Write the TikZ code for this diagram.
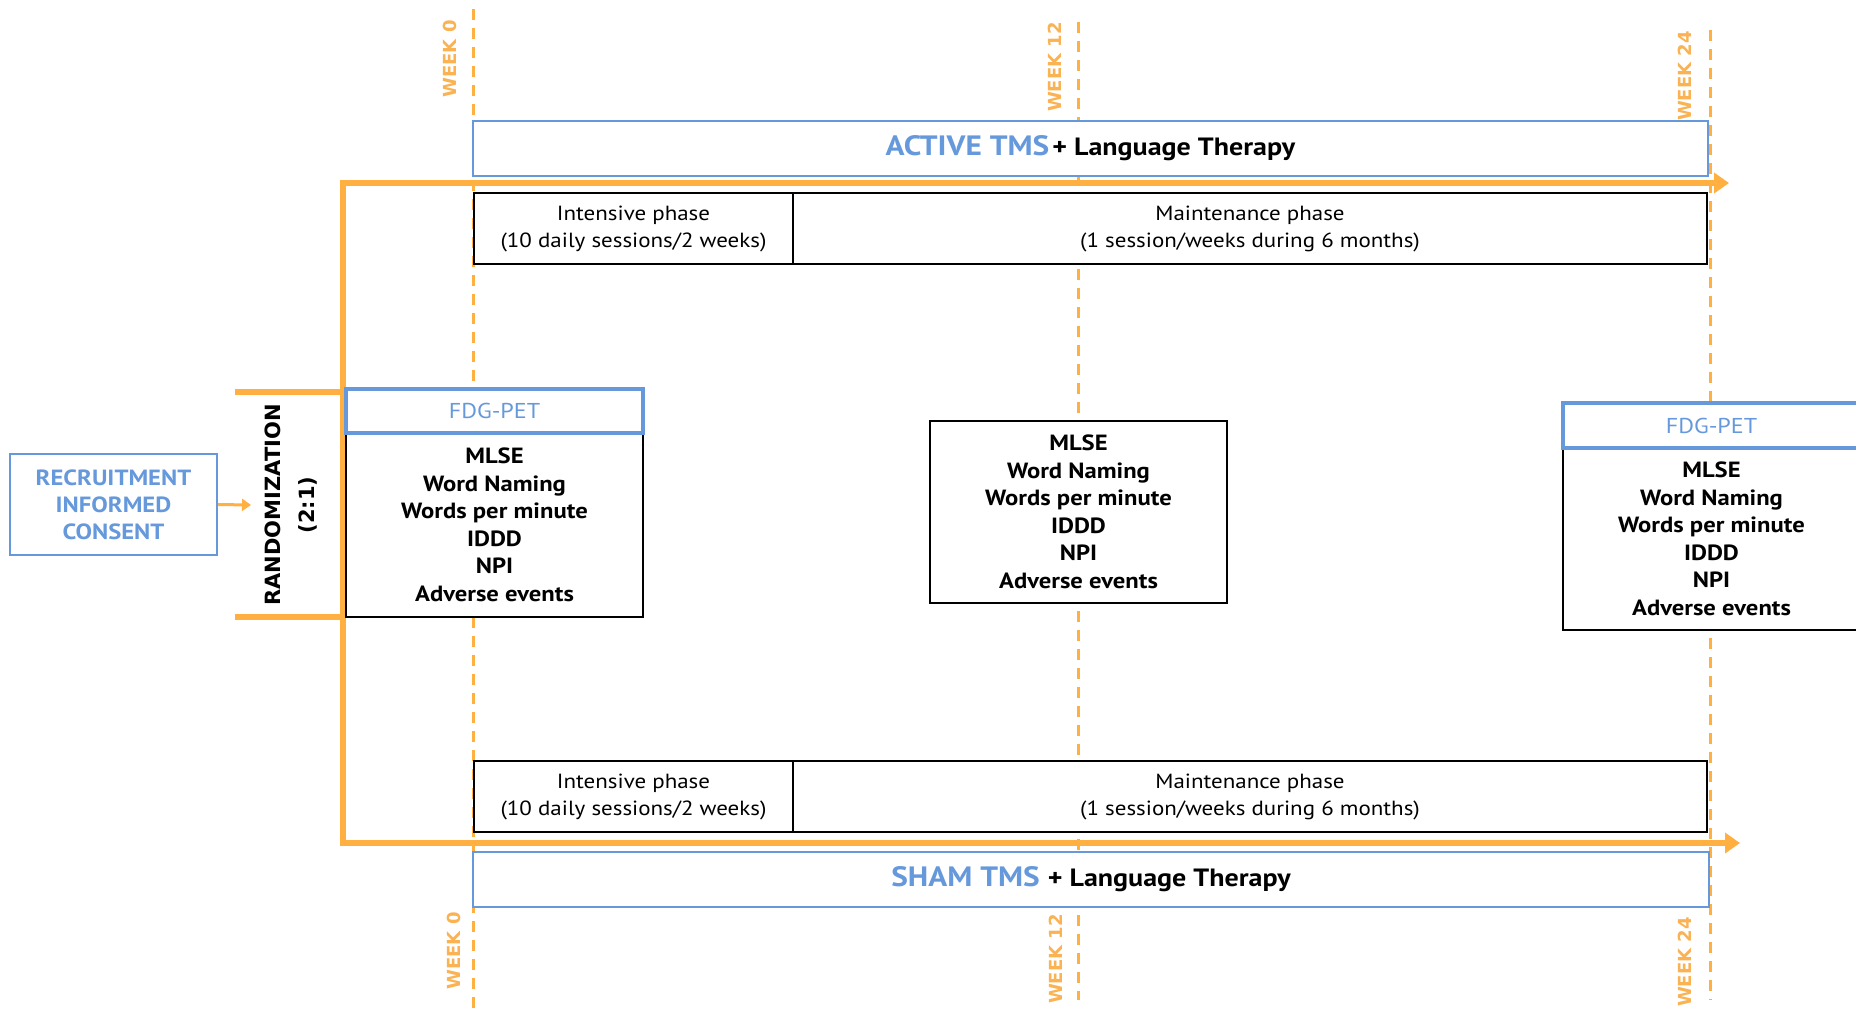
\documentclass[tikz,border=0pt]{standalone}
\usepackage{fontspec}
\setmainfont{PT Sans}[FakeStretch=1.12]
\newfontfamily\widefont{DejaVu Sans}
\usetikzlibrary{arrows.meta}
\definecolor{tmsblue}{RGB}{102,153,219}
\definecolor{tmsorange}{RGB}{255,176,64}
\definecolor{weekorange}{RGB}{250,178,82}
\begin{document}
\begin{tikzpicture}[x=1pt,y=-1pt,
  oline/.style={draw=tmsorange, line width=6.5pt},
  weekline/.style={draw=tmsorange, line width=3pt, dash pattern=on 11pt off 8pt},
  weeklbl/.style={text=weekorange, font=\widefont\bfseries\fontsize{18}{18}\selectfont, rotate=90, inner sep=0pt},
  bluebox/.style={draw=tmsblue, line width=2pt, fill=white, inner sep=0pt},
  blackbox/.style={draw=black, line width=2.5pt, fill=white, inner sep=0pt, align=center},
  fdgbox/.style={draw=tmsblue, line width=3.5pt, fill=white, inner sep=0pt, text=tmsblue, font=\fontsize{21.5}{21.5}\selectfont},
  listbox/.style={blackbox, font=\bfseries\fontsize{22}{27.5}\selectfont},
  phasebox/.style={blackbox, font=\fontsize{20.5}{27}\selectfont}]
\clip (0,0) rectangle (1856,1013);
\fill[white] (0,0) rectangle (1856,1013);

% week lines
\coordinate (w0a) at (473,9);   \coordinate (w0b) at (473,1013);
\coordinate (w12a) at (1078,22); \coordinate (w12b) at (1078,1000);
\coordinate (w24a) at (1710,30); \coordinate (w24b) at (1710,1000);
\draw[weekline] (w0a) -- (w0b);
\draw[weekline] (w12a) -- (w12b);
\draw[weekline] (w24a) -- (w24b);

% week labels
\node[weeklbl] (lt0) at (450,59) {WEEK 0};
\node[weeklbl] (lt12) at (1055,67) {WEEK 12};
\node[weeklbl] (lt24) at (1685,76) {WEEK 24};
\node[weeklbl] (lb0) at (454,951) {WEEK 0};
\node[weeklbl] (lb12) at (1056,959) {WEEK 12};
\node[weeklbl] (lb24) at (1685,962) {WEEK 24};

% orange randomization bracket and arms
\coordinate (c1) at (343,183);
\coordinate (c2) at (343,843);
\coordinate (s1) at (235,392);
\coordinate (s2) at (235,617);
\coordinate (t1) at (1729,183);
\coordinate (t2) at (1740,843);
\draw[oline] (c1) -- (c2);
\draw[oline] (s1) -- (s1 -| c1);
\draw[oline] (s2) -- (s2 -| c1);
\draw[oline, -{Triangle[length=15pt,width=20pt]}] ([xshift=-3.25pt]c1) -- (t1);
\draw[oline, -{Triangle[length=15pt,width=20pt]}] ([xshift=-3.25pt]c2) -- (t2);

% arms
\node[bluebox, minimum width=1235pt, minimum height=55pt] (active) at (1090.5,148.5)
  {{\color{tmsblue}\bfseries\fontsize{28}{28}\selectfont ACTIVE TMS} {\bfseries\fontsize{25}{25}\selectfont + Language Therapy}};
\node[bluebox, minimum width=1236pt, minimum height=55pt] (sham) at (1091,879.5)
  {{\color{tmsblue}\bfseries\fontsize{28}{28}\selectfont SHAM TMS}\hspace{8pt}{\bfseries\fontsize{25}{25}\selectfont + Language Therapy}};

\node[phasebox, minimum width=319pt, minimum height=71pt] (int1) at (633.5,228.5)
  {Intensive phase\\(10 daily sessions/2 weeks)};
\node[phasebox, minimum width=914pt, minimum height=71pt] (main1) at (1250,228.5)
  {Maintenance phase\\(1 session/weeks during 6 months)};
\node[phasebox, minimum width=319pt, minimum height=71pt] (int2) at (633.5,796.5)
  {Intensive phase\\(10 daily sessions/2 weeks)};
\node[phasebox, minimum width=914pt, minimum height=71pt] (main2) at (1250,796.5)
  {Maintenance phase\\(1 session/weeks during 6 months)};

% assessments
\node[listbox, minimum width=297pt, minimum height=184pt] (list0) at (494.5,525)
  {MLSE\\Word Naming\\Words per minute\\IDDD\\NPI\\Adverse events};
\node[fdgbox, minimum width=297pt, minimum height=44pt] (fdg0) at (494.5,411) {FDG-PET};
\node[listbox, minimum width=297pt, minimum height=182pt] (list12) at (1078.5,512)
  {MLSE\\Word Naming\\Words per minute\\IDDD\\NPI\\Adverse events};
\node[listbox, minimum width=297pt, minimum height=182pt] (list24) at (1711.5,539)
  {MLSE\\Word Naming\\Words per minute\\IDDD\\NPI\\Adverse events};
\node[fdgbox, minimum width=297pt, minimum height=45pt] (fdg24) at (1711.5,425.5) {FDG-PET};

% recruitment
\node[draw=tmsblue, line width=2pt, fill=white, inner sep=0pt, align=center,
  minimum width=207pt, minimum height=101pt, text=tmsblue,
  font=\bfseries\fontsize{22}{27}\selectfont] (recruit) at (113.5,504.5)
  {RECRUITMENT\\INFORMED\\CONSENT};
\node[font=\widefont\bfseries\fontsize{21}{21}\selectfont, rotate=90, inner sep=0pt] (rand) at (273,505) {RANDOMIZATION};
\node[font=\widefont\bfseries\fontsize{21}{21}\selectfont, rotate=90, inner sep=0pt] (ratio) at (308,505) {(2:1)};
\coordinate (rin) at (251,505);
\draw[draw=tmsorange, line width=3pt, -{Triangle[length=9pt,width=12pt]}] (recruit.east) -- (rin);
\end{tikzpicture}
\end{document}
